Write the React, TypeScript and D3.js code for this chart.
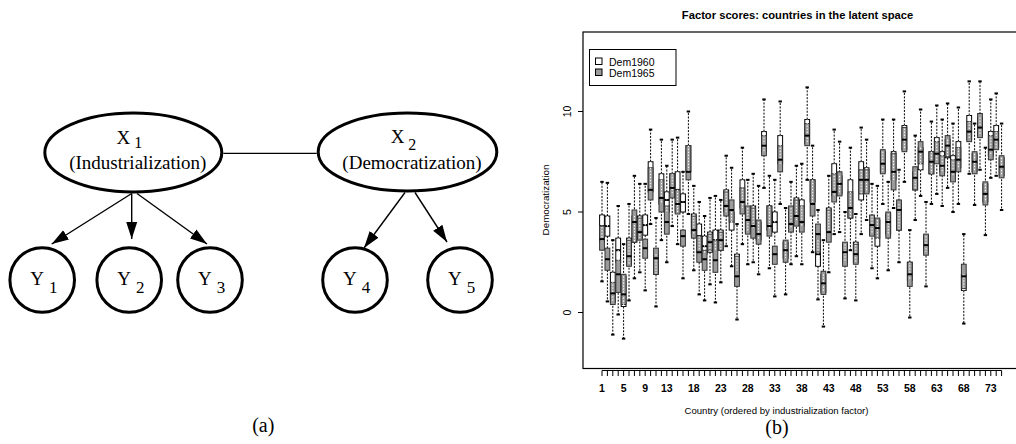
import React from "react";
import * as d3 from "d3";

// ---------------- Data (panel b) ----------------
const countries = d3.range(1, 76);
const xTickLabels = [1, 5, 9, 13, 18, 23, 28, 33, 38, 43, 48, 53, 58, 63, 68, 73];
const yTicks = [0, 5, 10];
const seriesNames = ["Dem1960", "Dem1965"];

const dem60Q1 = [3.5,3.8,0.5,2.5,0.3,2.4,3.5,3.7,3.85,6.0, 1.9,5.4,5.0,5.9,5.0,5.0,7.0,3.9,3.0,2.9, 3.0,3.1,3.1,5.0,4.1,2.0,5.2,4.0,4.2,3.6, 8.0,4.1,4.0,7.4,2.7,4.2,4.6,4.3,8.4,5.5, 2.3,1.0,4.1,5.8,5.9,2.5,4.7,2.5,5.6,6.0, 3.9,3.3,7.0,3.9,6.6,4.1,8.1,1.6,6.1,7.1, 3.0,6.9,7.5,7.0,7.7,6.8,7.2,1.1,8.6,7.0, 8.8,5.5,7.8,8.2,6.8];
const dem60Med = [4.3,4.3,1.4,3.1,1.2,3.1,4.0,4.1,4.35,6.9, 2.3,6.3,5.6,6.5,6.1,5.5,7.7,4.4,3.8,3.3, 3.6,3.6,3.7,5.6,4.6,2.5,6.0,4.5,4.9,4.1, 8.5,4.7,4.5,8.2,3.1,4.7,5.2,5.0,9.1,6.2, 2.9,1.5,4.7,6.5,6.2,3.0,5.7,3.0,6.1,6.5, 4.3,3.8,7.5,4.4,7.4,4.6,8.9,2.1,6.6,7.5, 3.4,7.5,8.2,7.5,8.1,7.4,7.8,1.5,9.3,7.4, 9.3,5.9,8.4,8.8,7.2];
const dem60Q3 = [4.85,4.8,2.0,3.7,1.8,3.7,4.8,4.8,4.85,7.5, 2.9,6.9,6.0,6.9,7.0,5.9,8.3,4.9,4.4,3.8, 4.0,4.1,4.1,6.1,5.0,2.9,6.6,5.2,5.3,4.5, 9.0,5.3,5.0,8.8,3.5,5.2,5.7,5.6,9.6,6.6, 3.6,1.9,5.2,7.4,6.8,3.4,6.6,3.5,7.5,7.2, 4.8,4.6,8.0,4.9,8.0,5.4,9.3,2.5,7.0,8.2, 3.8,8.0,8.7,8.0,8.6,7.8,8.5,1.9,9.8,7.9, 9.7,6.4,9.0,9.3,7.7];
const dem65Q1 = [3.1,2.1,0.4,1.0,0.4,2.3,3.5,3.6,2.7,5.6, 1.9,5.0,3.9,5.7,4.9,3.3,6.6,3.7,2.5,2.1, 3.1,2.0,3.1,4.8,4.5,1.3,4.9,3.9,3.7,3.4, 7.8,3.8,2.4,7.0,2.5,4.0,4.3,4.0,8.3,4.8, 3.0,0.9,3.5,5.5,5.8,2.3,4.7,2.4,5.9,5.9, 3.8,3.7,6.9,3.7,6.1,4.1,8.0,1.3,6.1,7.4, 2.85,6.9,7.4,6.8,7.75,6.5,7.0,1.2,8.5,6.9, 8.7,5.35,7.6,8.1,6.7];
const dem65Med = [3.65,2.65,0.95,1.9,0.9,2.8,4.5,4.0,3.2,6.1, 2.7,5.7,4.5,6.2,5.4,3.8,7.0,4.1,3.0,2.65, 3.5,2.6,3.6,5.3,5.1,1.8,5.5,4.6,4.3,3.9, 8.3,4.3,2.9,7.6,3.1,4.4,4.8,4.5,8.8,5.4, 3.9,1.45,4.0,6.0,6.4,3.0,5.2,2.9,6.6,6.6, 4.35,4.2,7.4,4.5,7.0,5.1,8.6,1.9,6.7,8.0, 3.35,7.5,7.9,7.3,8.3,7.0,7.6,1.8,9.0,7.5, 9.2,5.9,8.1,8.6,7.25];
const dem65Q3 = [4.3,3.2,1.5,2.6,1.9,3.6,5.1,4.7,3.65,7.2, 3.2,6.6,5.3,6.9,6.1,4.1,8.3,4.8,3.8,3.1, 3.9,3.6,4.0,6.0,5.6,2.8,6.2,5.3,5.2,4.6, 8.8,5.3,3.3,8.3,3.6,5.3,5.6,5.3,9.4,6.6, 4.4,2.05,5.1,6.9,7.0,3.5,6.0,3.4,7.1,7.1, 4.85,4.7,8.1,5.0,7.9,5.6,9.2,2.5,7.25,8.5, 3.9,8.0,8.5,7.8,8.8,7.6,8.2,2.4,9.5,8.0, 9.9,6.5,8.8,9.0,7.8];
const whiskerLo = [1.55,0.55,-1.1,-0.1,-1.3,0.6,1.7,2.0,1.1,4.4, 0.3,3.6,2.5,4.3,3.4,1.7,4.9,2.1,0.9,0.6, 1.4,0.5,1.5,3.3,2.3,-0.35,3.4,2.4,2.5,1.9, 6.2,2.2,0.8,5.4,0.9,2.4,2.8,2.4,6.6,3.0, 0.65,-0.7,2.0,3.9,4.0,0.7,3.1,0.6,3.9,4.6, 2.2,1.7,5.4,2.1,5.2,2.5,6.5,-0.25,4.6,5.8, 1.3,5.4,5.9,5.3,6.2,5.0,5.4,-0.55,6.9,5.35, 7.1,3.85,6.7,6.8,5.1];
const whiskerHi = [6.5,6.45,3.6,5.3,3.4,5.4,6.8,6.4,6.4,9.1, 4.7,8.6,7.3,8.6,8.7,7.0,10.0,6.3,5.5,4.8, 5.7,5.8,5.6,7.8,7.2,4.4,8.2,6.6,6.9,6.3, 10.6,6.8,6.6,10.5,5.2,6.5,7.3,7.4,11.2,8.3, 5.1,3.6,6.8,9.1,8.5,5.0,8.2,4.9,9.2,8.6, 6.4,6.3,9.6,6.5,9.6,7.1,11.0,4.1,8.8,10.1, 5.5,9.5,10.3,9.6,10.4,9.4,10.2,3.9,11.5,9.4, 11.5,8.2,10.6,10.9,9.4];

// ---------------- Diagram (panel a) ----------------
const latentNodes = [
  { id: "X1", sub: "1", name: "(Industrialization)" },
  { id: "X2", sub: "2", name: "(Democratization)" },
];
const observedNodes = [
  { id: "Y1", sub: "1", parent: "X1" },
  { id: "Y2", sub: "2", parent: "X1" },
  { id: "Y3", sub: "3", parent: "X1" },
  { id: "Y4", sub: "4", parent: "X2" },
  { id: "Y5", sub: "5", parent: "X2" },
];

// layout of the diagram (positions, not data)
const latentLayout: Record<string, { cx: number; cy: number; rx: number; ry: number; subDy: number }> = {
  X1: { cx: 133.3, cy: 152.5, rx: 88.5, ry: 39.5, subDy: 4 },
  X2: { cx: 407.5, cy: 152.0, rx: 89.3, ry: 39.0, subDy: 7 },
};
const observedLayout: Record<string, { cx: number; cy: number }> = {
  Y1: { cx: 42.2, cy: 280 },
  Y2: { cx: 129.2, cy: 280 },
  Y3: { cx: 210, cy: 280 },
  Y4: { cx: 355, cy: 280 },
  Y5: { cx: 460, cy: 280 },
};
const edgeLayout: Record<string, [number, number, number, number]> = {
  Y1: [131.7, 193.5, 51.7, 244],
  Y2: [131.7, 193.5, 131.7, 239],
  Y3: [137, 193.5, 207, 244],
  Y4: [405, 192.5, 364, 248],
  Y5: [415, 192.5, 447, 242],
};

const W = 1016;
const H = 444;

function Diagram() {
  const r = 32.3;
  const serif = "'Liberation Serif', 'DejaVu Serif', serif";
  return (
    <g fontFamily={serif} fill="black">
      <defs>
        <marker id="arrowHead" markerUnits="userSpaceOnUse" markerWidth="18" markerHeight="12" refX="17" refY="6" orient="auto">
          <path d="M0,0.5 L17,6 L0,11.5 z" fill="black" />
        </marker>
      </defs>
      <line
        x1={latentLayout.X1.cx + latentLayout.X1.rx + 1.5}
        y1={153.3}
        x2={latentLayout.X2.cx - latentLayout.X2.rx - 1.5}
        y2={153.3}
        stroke="black"
        strokeWidth={1.3}
      />
      {observedNodes.map((n) => {
        const e = edgeLayout[n.id];
        return (
          <line key={"e" + n.id} x1={e[0]} y1={e[1]} x2={e[2]} y2={e[3]} stroke="black" strokeWidth={1.4} markerEnd="url(#arrowHead)" />
        );
      })}
      {latentNodes.map((n) => {
        const L = latentLayout[n.id];
        return (
          <g key={n.id}>
            <ellipse cx={L.cx} cy={L.cy} rx={L.rx} ry={L.ry} fill="white" stroke="black" strokeWidth={3} />
            <text x={L.cx - 4} y={L.cy - 9} textAnchor="middle" fontSize={19}>
              {"X"}
              <tspan dx={4} dy={L.subDy} fontSize={16}>{n.sub}</tspan>
            </text>
            <text x={L.cx + 4.5} y={L.cy + 16.5} textAnchor="middle" fontSize={19}>{n.name}</text>
          </g>
        );
      })}
      {observedNodes.map((n) => {
        const L = observedLayout[n.id];
        return (
          <g key={n.id}>
            <circle cx={L.cx} cy={L.cy} r={r} fill="white" stroke="black" strokeWidth={3} />
            <text x={L.cx - 12} y={L.cy + 5} fontSize={19}>
              {"Y"}
              <tspan dx={5} dy={8} fontSize={17}>{n.sub}</tspan>
            </text>
          </g>
        );
      })}
      <text x={263.3} y={432} textAnchor="middle" fontSize={20}>(a)</text>
    </g>
  );
}

function BoxPanel() {
  const sans = "'Liberation Sans', Arial, Helvetica, sans-serif";
  const left = 583;
  const top = 32;
  const bottom = 368.5;
  const right = 1030;
  const x = d3.scaleLinear().domain([1, 75]).range([602, 1001.6]);
  const y = d3.scaleLinear().domain([0, 10]).range([312.5, 111.5]);
  const bw = 4.8;
  const capW = 3.4;
  const gray = "#9b9b9b";

  const whiskers = (i: number, q1: number, q3: number, key: string) => {
    const cx = x(countries[i]);
    return (
      <g key={key}>
        <line x1={cx} x2={cx} y1={y(q3)} y2={y(whiskerHi[i])} stroke="black" strokeWidth={1} strokeDasharray="2,1.4" />
        <line x1={cx} x2={cx} y1={y(q1)} y2={y(whiskerLo[i])} stroke="black" strokeWidth={1} strokeDasharray="2,1.4" />
        <line x1={cx - capW / 2} x2={cx + capW / 2} y1={y(whiskerHi[i])} y2={y(whiskerHi[i])} stroke="black" strokeWidth={2} />
        <line x1={cx - capW / 2} x2={cx + capW / 2} y1={y(whiskerLo[i])} y2={y(whiskerLo[i])} stroke="black" strokeWidth={2} />
      </g>
    );
  };

  return (
    <g fontFamily={sans}>
      <text x={797.5} y={18.5} textAnchor="middle" fontSize={11.2} fontWeight="bold">
        Factor scores: countries in the latent space
      </text>

      {countries.map((c, i) => whiskers(i, dem60Q1[i], dem60Q3[i], "w60" + c))}
      {countries.map((c, i) => (
        <g key={"b60" + c}>
          <rect x={x(c) - bw / 2} y={y(dem60Q3[i])} width={bw} height={y(dem60Q1[i]) - y(dem60Q3[i])} fill="white" stroke="black" strokeWidth={1} />
          <line x1={x(c) - bw / 2} x2={x(c) + bw / 2} y1={y(dem60Med[i])} y2={y(dem60Med[i])} stroke="black" strokeWidth={2} />
        </g>
      ))}
      {countries.map((c, i) => (
        <rect key={"b65" + c} x={x(c) - bw / 2} y={y(dem65Q3[i])} width={bw} height={y(dem65Q1[i]) - y(dem65Q3[i])} fill={gray} stroke="#333" strokeWidth={1} />
      ))}
      {countries.map((c, i) => (
        <line key={"d60" + c} x1={x(c)} x2={x(c)} y1={y(dem60Q3[i])} y2={y(dem60Q1[i])} stroke="white" strokeWidth={1} strokeDasharray="1.5,1.5" />
      ))}
      {countries.map((c, i) => (
        <line key={"m65" + c} x1={x(c) - bw / 2} x2={x(c) + bw / 2} y1={y(dem65Med[i])} y2={y(dem65Med[i])} stroke="black" strokeWidth={2} />
      ))}

      <rect x={left} y={top} width={right - left} height={bottom - top} fill="none" stroke="black" strokeWidth={1.2} />

      {yTicks.map((t) => (
        <g key={"yt" + t}>
          <line x1={left} x2={left - 5} y1={y(t)} y2={y(t)} stroke="black" strokeWidth={1} />
          <text transform={`translate(${570.5},${y(t)}) rotate(-90)`} textAnchor="middle" fontSize={10.5}>{t}</text>
        </g>
      ))}
      <text transform={`translate(${549},${200}) rotate(-90)`} textAnchor="middle" fontSize={9.8}>Democratization</text>

      <line x1={x(1)} x2={x(75)} y1={bottom + 2} y2={bottom + 2} stroke="black" strokeWidth={1} />
      {countries.map((c) => (
        <line key={"xt" + c} x1={x(c)} x2={x(c)} y1={bottom + 2} y2={bottom + 7.5} stroke="black" strokeWidth={1} />
      ))}
      {xTickLabels.map((t) => (
        <text key={"xl" + t} x={x(t)} y={392} textAnchor="middle" fontSize={10.5} fontWeight="bold">{t}</text>
      ))}
      <text x={776.5} y={413.5} textAnchor="middle" fontSize={9.6}>Country (ordered by industrialization factor)</text>

      <rect x={589.5} y={49.5} width={86.5} height={36} fill="white" stroke="black" strokeWidth={1} />
      {seriesNames.map((s, k) => (
        <g key={s}>
          <rect x={595.5} y={58 + k * 11} width={6.5} height={6.5} fill={k === 0 ? "white" : gray} stroke="black" strokeWidth={1} />
          <text x={609} y={65.5 + k * 11} fontSize={10.5}>{s}</text>
        </g>
      ))}

      <text x={777} y={433.5} textAnchor="middle" fontSize={20} fontFamily="'Liberation Serif', serif">(b)</text>
    </g>
  );
}

export default function App() {
  return (
    <svg width={W} height={H} viewBox={`0 0 ${W} ${H}`} style={{ position: "absolute", left: 0, top: 0, background: "white" }}>
      <rect x={0} y={0} width={W} height={H} fill="white" />
      <Diagram />
      <BoxPanel />
    </svg>
  );
}
